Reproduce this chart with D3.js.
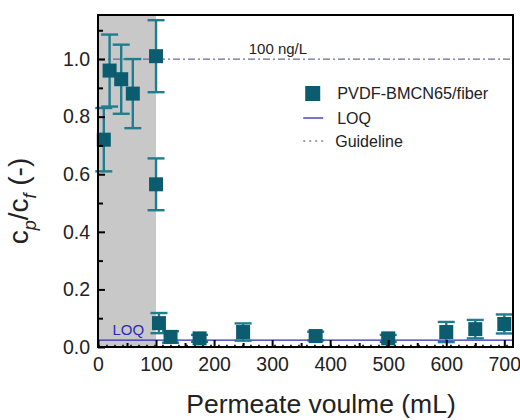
<!DOCTYPE html>
<html>
<head>
<meta charset="utf-8">
<script src="https://cdn.jsdelivr.net/npm/d3@7"></script>
<style>
  body { margin: 0; background: #fff; }
  svg { font-family: 'Liberation Sans', Arial, sans-serif; }
</style>
</head>
<body>
<svg width="520" height="420"></svg>
<script>
'use strict';
// data
const volume = [10, 20, 40, 60, 100, 100, 105, 125, 175, 250, 375, 500, 600, 650, 700];
const ratio  = [0.72, 0.96, 0.93, 0.88, 1.01, 0.565, 0.083, 0.035, 0.03, 0.052, 0.038, 0.03, 0.052, 0.062, 0.08];
const err    = [0.11, 0.125, 0.12, 0.12, 0.125, 0.09, 0.035, 0.02, 0.012, 0.03, 0.015, 0.012, 0.035, 0.032, 0.033];
const x_ticks = [0, 100, 200, 300, 400, 500, 600, 700];
const y_ticks = [0.0, 0.2, 0.4, 0.6, 0.8, 1.0];
const loq = 0.024;
const guideline = 0.005;
const limit = 1.0;
const shade_end = 100;

const svg = d3.select('svg');
const margin = {top: 15, right: 7, bottom: 73, left: 98};
const chart_width = 520 - margin.left - margin.right;
const chart_height = 420 - margin.top - margin.bottom;
const chart_g = svg.append('g').attr('transform', `translate(${margin.left},${margin.top})`);

const x_scale = d3.scaleLinear().domain([0, 715]).range([0, chart_width]);
const y_scale = d3.scaleLinear().domain([0, 1.153]).range([chart_height, 0]);

const marker_color = '#0b5c6e';
const bar_color = '#1f7d8e';

// shaded region
chart_g.append('rect')
  .attr('x', x_scale(0))
  .attr('y', 0)
  .attr('width', x_scale(shade_end) - x_scale(0))
  .attr('height', chart_height)
  .attr('fill', '#c8c8c8');

// reference lines
chart_g.append('line')
  .attr('x1', 0).attr('x2', chart_width)
  .attr('y1', y_scale(limit)).attr('y2', y_scale(limit))
  .attr('stroke', '#6a6a9a').attr('stroke-width', 1.3)
  .attr('stroke-dasharray', '7,3,2,3');

chart_g.append('line')
  .attr('x1', 0).attr('x2', chart_width)
  .attr('y1', y_scale(loq)).attr('y2', y_scale(loq))
  .attr('stroke', '#2a2ab8').attr('stroke-width', 1.3);

chart_g.append('line')
  .attr('x1', 0).attr('x2', chart_width)
  .attr('y1', y_scale(guideline)).attr('y2', y_scale(guideline))
  .attr('stroke', '#333').attr('stroke-width', 1.5)
  .attr('stroke-dasharray', '2,6');

chart_g.append('text')
  .attr('x', x_scale(310)).attr('y', y_scale(limit) - 5)
  .attr('text-anchor', 'middle')
  .attr('font-size', 15).attr('fill', '#222')
  .text('100 ng/L');

chart_g.append('text')
  .attr('x', x_scale(25)).attr('y', y_scale(loq) - 5)
  .attr('font-size', 15).attr('fill', '#2a2ab8')
  .text('LOQ');

// error bars and markers
const pts = volume.map((v, i) => ({x: v, y: ratio[i], e: err[i]}));
const half_cap = 8.5;
const eb = chart_g.append('g').attr('stroke', bar_color).attr('stroke-width', 2.4);
pts.forEach(p => {
  const cx = x_scale(p.x);
  eb.append('line').attr('x1', cx).attr('x2', cx)
    .attr('y1', y_scale(p.y + p.e)).attr('y2', y_scale(p.y - p.e));
  eb.append('line').attr('x1', cx - half_cap).attr('x2', cx + half_cap)
    .attr('y1', y_scale(p.y + p.e)).attr('y2', y_scale(p.y + p.e));
  eb.append('line').attr('x1', cx - half_cap).attr('x2', cx + half_cap)
    .attr('y1', y_scale(p.y - p.e)).attr('y2', y_scale(p.y - p.e));
});

const msize = 14;
chart_g.append('g').selectAll('rect').data(pts).enter()
  .append('rect')
    .attr('x', d => x_scale(d.x) - msize / 2)
    .attr('y', d => y_scale(d.y) - msize / 2)
    .attr('width', msize).attr('height', msize)
    .attr('fill', marker_color);

// axes
const x_axis = chart_g.append('g')
  .attr('transform', `translate(0,${chart_height})`)
  .call(d3.axisBottom(x_scale).tickValues(x_ticks).tickSize(-7).tickPadding(10).tickFormat(d3.format('d')));
const x_minor = chart_g.append('g')
  .attr('transform', `translate(0,${chart_height})`)
  .call(d3.axisBottom(x_scale).tickValues(d3.range(50, 715, 100)).tickSize(-4).tickFormat(''));
const y_axis = chart_g.append('g')
  .call(d3.axisLeft(y_scale).tickValues(y_ticks).tickSize(-7).tickPadding(8).tickFormat(d3.format('.1f')));
const y_minor = chart_g.append('g')
  .call(d3.axisLeft(y_scale).tickValues([0.1, 0.3, 0.5, 0.7, 0.9, 1.1]).tickSize(-5).tickFormat(''));

[x_axis, x_minor, y_axis, y_minor].forEach(a => {
  a.select('.domain').remove();
  a.selectAll('line').attr('stroke', '#000').attr('stroke-width', 2);
  a.selectAll('text').attr('font-size', 19.5).attr('fill', '#222').attr('font-family', "'Liberation Sans', Arial, sans-serif");
});

// frame
chart_g.append('rect')
  .attr('x', 0).attr('y', 0)
  .attr('width', chart_width).attr('height', chart_height)
  .attr('fill', 'none').attr('stroke', '#000').attr('stroke-width', 2);

// axis titles
svg.append('text')
  .attr('x', 321)
  .attr('y', 413)
  .attr('text-anchor', 'middle')
  .attr('font-size', 26.5).attr('fill', '#222')
  .text('Permeate voulme (mL)');

const ylab = svg.append('text')
  .attr('transform', 'translate(28,201) rotate(-90)')
  .attr('text-anchor', 'middle')
  .attr('font-size', 28).attr('fill', '#222');
ylab.append('tspan').text('c');
ylab.append('tspan').attr('font-size', 18).attr('font-style', 'italic').attr('dy', 8).text('p');
ylab.append('tspan').attr('dy', -8).text('/c');
ylab.append('tspan').attr('font-size', 18).attr('font-style', 'italic').attr('dy', 8).text('f');
ylab.append('tspan').attr('dy', -8).text(' (-)');

// legend
const legend = chart_g.append('g').attr('transform', `translate(${x_scale(357)},0)`);
legend.append('rect')
  .attr('x', 0).attr('y', 71).attr('width', 15).attr('height', 15)
  .attr('fill', marker_color);
legend.append('text')
  .attr('x', 32).attr('y', 78).attr('dy', '0.35em')
  .attr('font-size', 16.3).attr('fill', '#222')
  .text('PVDF-BMCN65/fiber');
legend.append('line')
  .attr('x1', -2).attr('x2', 18).attr('y1', 103).attr('y2', 103)
  .attr('stroke', '#2a2ab8').attr('stroke-width', 1.3);
legend.append('text')
  .attr('x', 32).attr('y', 103).attr('dy', '0.35em')
  .attr('font-size', 16).attr('fill', '#222')
  .text('LOQ');
legend.append('line')
  .attr('x1', -2).attr('x2', 18).attr('y1', 126).attr('y2', 126)
  .attr('stroke', '#444').attr('stroke-width', 1.2).attr('stroke-dasharray', '2,4');
legend.append('text')
  .attr('x', 30).attr('y', 126).attr('dy', '0.35em')
  .attr('font-size', 16).attr('fill', '#222')
  .text('Guideline');
</script>
</body>
</html>
